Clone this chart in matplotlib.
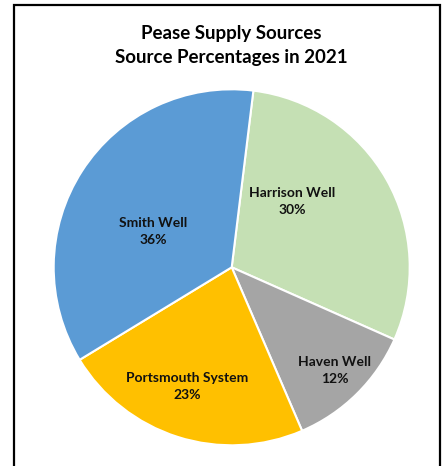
import matplotlib
matplotlib.use("Agg")
import matplotlib.pyplot as plt
from matplotlib.patches import Rectangle

plt.rcParams['font.family'] = ['Lato', 'DejaVu Sans']

# Supply sources and their share of 2021 supply (percent)
sources = ["Harrison Well", "Haven Well", "Portsmouth System", "Smith Well"]
shares = [30, 12, 23, 36]
colors = ["#C5E0B4", "#A5A5A5", "#FFC000", "#5B9BD5"]

title_lines = ["Pease Supply Sources", "Source Percentages in 2021"]

# label anchor points in pie-radius units
label_xy = [(0.34, 0.37), (0.58, -0.58), (-0.25, -0.67), (-0.44, 0.20)]

W, H = 442, 466
fig = plt.figure(figsize=(W / 100, H / 100), dpi=100)

cx, cy, r = 231.7, 267.3, 178.0
ax = fig.add_axes([(cx - r) / W, (H - cy - r) / H, 2 * r / W, 2 * r / H])
ax.pie(shares, colors=colors, startangle=83, counterclock=False, radius=1,
       wedgeprops=dict(edgecolor="white", linewidth=1.5))
ax.set_xlim(-1, 1)
ax.set_ylim(-1, 1)
ax.set_aspect("equal")
ax.axis("off")

for name, val, (x, y) in zip(sources, shares, label_xy):
    ax.text(x, y, f"{name}\n{val}%", ha="center", va="center",
            fontsize=10, fontweight="bold", color="#111111", linespacing=1.5)

fig.text(cx / W, 1 - 33 / H, title_lines[0], ha="center", va="center",
         fontsize=13.5, fontweight="bold", color="#000000")
fig.text(cx / W, 1 - 58 / H, title_lines[1], ha="center", va="center",
         fontsize=13.5, fontweight="bold", color="#000000")

# chart-area frame
fig.patches.append(Rectangle((14 / W, -0.05), (440 - 14) / W, 1.05 - 5 / H,
                             transform=fig.transFigure, fill=False,
                             edgecolor="black", linewidth=1.6))

fig.savefig("out.png", dpi=100)
